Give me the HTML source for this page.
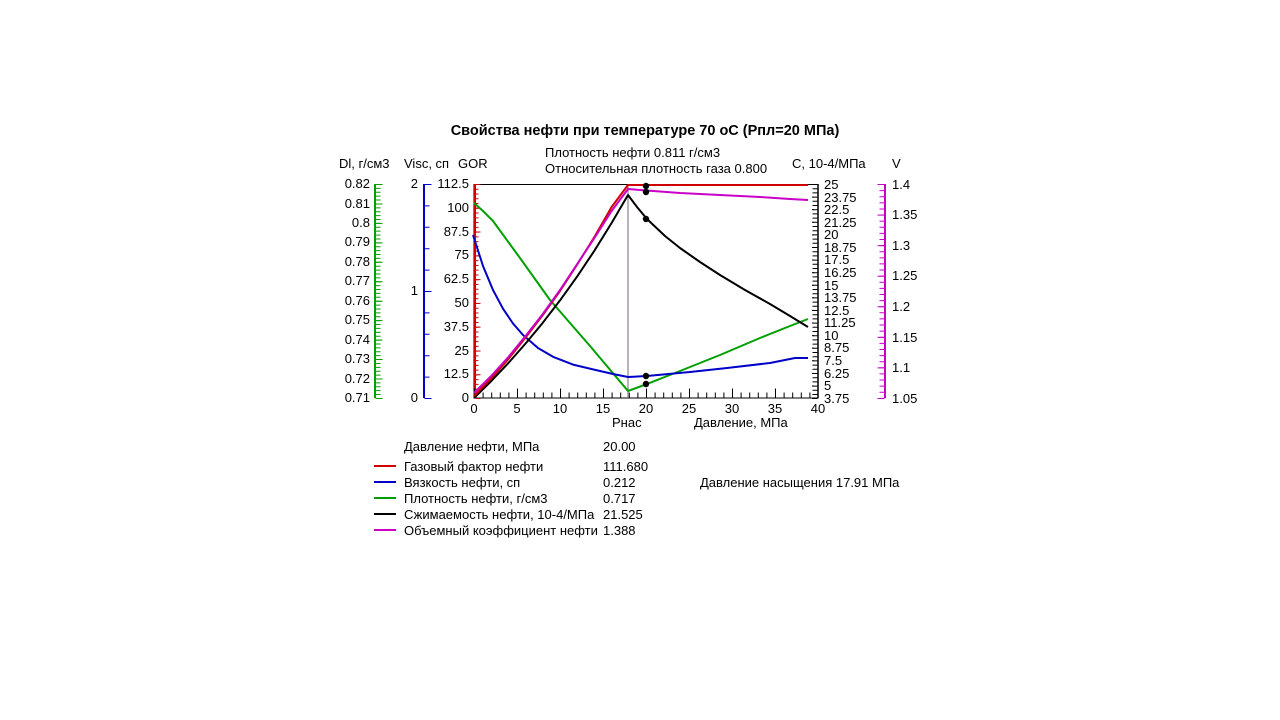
<!DOCTYPE html>
<html><head><meta charset="utf-8"><style>
html,body{margin:0;padding:0;background:#fff;width:1280px;height:720px;overflow:hidden}
svg{display:block}
text{font-family:"Liberation Sans",Arial,sans-serif;font-size:13px;fill:#000}
</style></head><body>
<svg width="1280" height="720" viewBox="0 0 1280 720">
<text x="645" y="135" text-anchor="middle" style="font-weight:bold;font-size:14.5px">Свойства нефти при температуре 70 оС (Рпл=20 МПа)</text>
<text x="545" y="157">Плотность нефти 0.811 г/см3</text>
<text x="545" y="173">Относительная плотность газа 0.800</text>
<text x="339" y="168">Dl, г/см3</text>
<text x="404" y="168">Visc, сп</text>
<text x="458" y="168">GOR</text>
<text x="792" y="168">C, 10-4/МПа</text>
<text x="892" y="168">V</text>

<rect x="474" y="184.5" width="344" height="213.5" fill="none" stroke="#000" stroke-width="1"/>

<!-- green axis -->
<line x1="375" y1="184" x2="375" y2="398" stroke="#00a000" stroke-width="2"/>
<line x1="378" y1="184" x2="378" y2="399" stroke="#00a000" stroke-width="5" stroke-dasharray="1 2.89"/>
<line x1="379" y1="184" x2="379" y2="399" stroke="#00a000" stroke-width="7" stroke-dasharray="1 18.45"/>
<g text-anchor="end">
<text x="370" y="188">0.82</text><text x="370" y="208">0.81</text><text x="370" y="227">0.8</text><text x="370" y="246">0.79</text><text x="370" y="266">0.78</text><text x="370" y="285">0.77</text><text x="370" y="305">0.76</text><text x="370" y="324">0.75</text><text x="370" y="344">0.74</text><text x="370" y="363">0.73</text><text x="370" y="383">0.72</text><text x="370" y="402">0.71</text>
</g>
<!-- blue axis -->
<line x1="424" y1="184" x2="424" y2="398" stroke="#0000c8" stroke-width="2"/>
<line x1="427" y1="184" x2="427" y2="399" stroke="#0000c8" stroke-width="5" stroke-dasharray="1 20.4"/>
<line x1="428" y1="184" x2="428" y2="399" stroke="#0000c8" stroke-width="7" stroke-dasharray="1 106"/>
<g text-anchor="end">
<text x="418" y="188">2</text><text x="418" y="295">1</text><text x="418" y="402">0</text>
</g>
<!-- red GOR axis -->
<line x1="475" y1="184" x2="475" y2="398" stroke="#d00000" stroke-width="2"/>
<line x1="477" y1="184" x2="477" y2="399" stroke="#d00000" stroke-width="3" stroke-dasharray="1 3.76"/>
<line x1="478" y1="184" x2="478" y2="399" stroke="#d00000" stroke-width="5" stroke-dasharray="1 22.78"/>
<g text-anchor="end">
<text x="469" y="188">112.5</text><text x="469" y="212">100</text><text x="469" y="236">87.5</text><text x="469" y="259">75</text><text x="469" y="283">62.5</text><text x="469" y="307">50</text><text x="469" y="331">37.5</text><text x="469" y="355">25</text><text x="469" y="378">12.5</text><text x="469" y="402">0</text>
</g>
<!-- C axis -->
<line x1="815" y1="184" x2="815" y2="399" stroke="#000" stroke-width="5" stroke-dasharray="1 3.2"/>
<line x1="813" y1="184" x2="813" y2="399" stroke="#000" stroke-width="2" stroke-dasharray="1 11.59"/>
<line x1="818" y1="184" x2="818" y2="398" stroke="#000" stroke-width="1.5"/>
<g style="font-size:12.5px">
<text x="824" y="189">25</text><text x="824" y="202">23.75</text><text x="824" y="214">22.5</text><text x="824" y="227">21.25</text><text x="824" y="239">20</text><text x="824" y="252">18.75</text><text x="824" y="264">17.5</text><text x="824" y="277">16.25</text><text x="824" y="290">15</text><text x="824" y="302">13.75</text><text x="824" y="315">12.5</text><text x="824" y="327">11.25</text><text x="824" y="340">10</text><text x="824" y="352">8.75</text><text x="824" y="365">7.5</text><text x="824" y="378">6.25</text><text x="824" y="390">5</text><text x="824" y="403">3.75</text>
</g>
<!-- V axis -->
<line x1="885" y1="184" x2="885" y2="398" stroke="#c800c8" stroke-width="2"/>
<line x1="882" y1="184" x2="882" y2="399" stroke="#c800c8" stroke-width="5" stroke-dasharray="1 5.11"/>
<line x1="881" y1="184" x2="881" y2="399" stroke="#c800c8" stroke-width="7" stroke-dasharray="1 29.57"/>
<text x="892" y="189">1.4</text><text x="892" y="219">1.35</text><text x="892" y="250">1.3</text><text x="892" y="280">1.25</text><text x="892" y="311">1.2</text><text x="892" y="342">1.15</text><text x="892" y="372">1.1</text><text x="892" y="403">1.05</text>
<!-- x ticks -->
<line x1="474" y1="395" x2="818" y2="395" stroke="#000" stroke-width="5" stroke-dasharray="1 7.6"/>
<line x1="474" y1="393" x2="818" y2="393" stroke="#000" stroke-width="9" stroke-dasharray="1 42"/>
<g text-anchor="middle">
<text x="474" y="413">0</text><text x="517" y="413">5</text><text x="560" y="413">10</text><text x="603" y="413">15</text><text x="646" y="413">20</text><text x="689" y="413">25</text><text x="732" y="413">30</text><text x="775" y="413">35</text><text x="818" y="413">40</text>
</g>
<text x="612" y="427">Рнас</text>
<text x="694" y="427">Давление, МПа</text>

<line x1="628" y1="185" x2="628" y2="398" stroke="#806080" stroke-width="1"/>

<g fill="none" stroke-width="2" stroke-linejoin="round">
<polyline stroke="#00a000" points="474,203 483,211 493,221 520,258 550,300 590,346 628,391 647,384 680,371 720,355 760,338 790,326 808,319"/>
<polyline stroke="#0000c8" points="473,235 483,266 493,290 503,308.7 513,323.5 523,335 538,348 553,356.8 573,364.6 593,369.4 613,374 628,377 647,376 690,372 727,368 770,363 795,358 808,358"/>
<polyline stroke="#000" points="474,398 491.2,381.1 508.4,363 525.6,343.5 542.8,322.7 560,300.4 577.2,276.4 594.4,250.7 611.6,223 628,195 637,207 647,219 665,236 680,248 700,262 720,275 745,290 770,304 790,316 808,327"/>
<polyline stroke="#d00000" points="474,396 491.2,378.5 508.4,359 525.6,337.5 542.8,315 560,291 577.2,264.5 594.4,237 611.6,207 628,185 808,185"/>
<polyline stroke="#c800c8" points="474,393 491.2,376 508.4,357 525.6,336 542.8,314 560,290 577.2,264 594.4,238 611.6,211 628,189 640,190 680,193 720,195 760,197 790,199 808,200"/>
</g>
<g fill="#000">
<circle cx="646" cy="186" r="3.2"/><circle cx="646" cy="192" r="3.2"/><circle cx="646" cy="219" r="3.2"/><circle cx="646" cy="376" r="3.2"/><circle cx="646" cy="384" r="3.2"/>
</g>

<text x="404" y="451">Давление нефти, МПа</text><text x="603" y="451">20.00</text>
<line x1="374" y1="466" x2="396" y2="466" stroke="#d00000" stroke-width="2"/>
<text x="404" y="471">Газовый фактор нефти</text><text x="603" y="471">111.680</text>
<line x1="374" y1="482" x2="396" y2="482" stroke="#0000c8" stroke-width="2"/>
<text x="404" y="487">Вязкость нефти, сп</text><text x="603" y="487">0.212</text>
<line x1="374" y1="498" x2="396" y2="498" stroke="#00a000" stroke-width="2"/>
<text x="404" y="503">Плотность нефти, г/см3</text><text x="603" y="503">0.717</text>
<line x1="374" y1="514" x2="396" y2="514" stroke="#000" stroke-width="2"/>
<text x="404" y="519">Сжимаемость нефти, 10-4/МПа</text><text x="603" y="519">21.525</text>
<line x1="374" y1="530" x2="396" y2="530" stroke="#c800c8" stroke-width="2"/>
<text x="404" y="535">Объемный коэффициент нефти</text><text x="603" y="535">1.388</text>
<text x="700" y="487">Давление насыщения 17.91 МПа</text>
</svg>
</body></html>
